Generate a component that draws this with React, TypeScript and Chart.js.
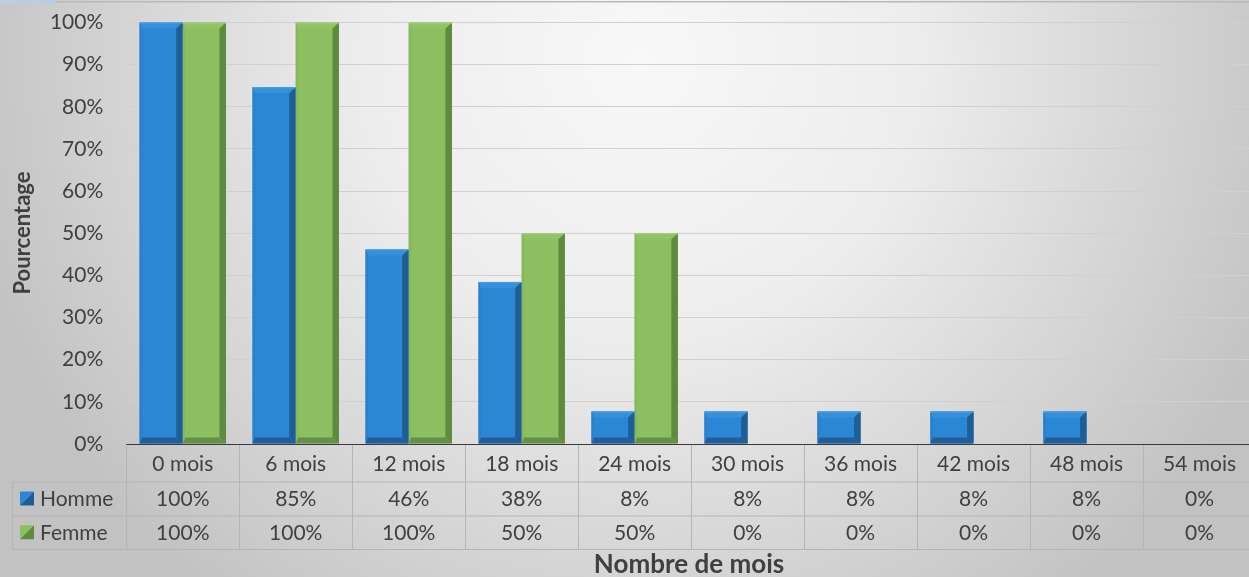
import React, { useEffect, useRef } from 'react';
import { Chart, registerables } from 'chart.js';

Chart.register(...registerables);

const categories = ['0 mois', '6 mois', '12 mois', '18 mois', '24 mois', '30 mois', '36 mois', '42 mois', '48 mois', '54 mois'];
const seriesNames = ['Homme', 'Femme'];
const hommeValues = [100, 84.62, 46.15, 38.46, 7.69, 7.69, 7.69, 7.69, 7.69, 0];
const femmeValues = [100, 100, 100, 50, 50, 0, 0, 0, 0, 0];
const yAxisTitle = 'Pourcentage';
const xAxisTitle = 'Nombre de mois';

const FONT = 'Lato, "Open Sans", sans-serif';
const TEXT = '#404040';

const palettes = [
  { face: '#2b87d5', top: '#3390da', left: '#2a80cc', right: '#1f5e95', bottom: '#205f97', hi: '#4f9fe0' },
  { face: '#8bbf60', top: '#92c467', left: '#86b95b', right: '#5f8b3f', bottom: '#678f45', hi: '#a2cf7c' },
];

function poly(ctx: CanvasRenderingContext2D, pts: number[][], color: string) {
  ctx.beginPath();
  ctx.moveTo(pts[0][0], pts[0][1]);
  for (let i = 1; i < pts.length; i++) ctx.lineTo(pts[i][0], pts[i][1]);
  ctx.closePath();
  ctx.fillStyle = color;
  ctx.fill();
}

function drawBevel(ctx: CanvasRenderingContext2D, L: number, R: number, T: number, B: number, c: any) {
  const h = B - T;
  if (h <= 0.5) return;
  const bt = Math.min(6, h / 4);
  const bb = Math.min(6, h / 4);
  const bl = 2.5;
  const br = 6.5;
  poly(ctx, [[L, T], [R, T], [R - br, T + bt], [L + bl, T + bt]], c.top);
  poly(ctx, [[L, T], [L + bl, T + bt], [L + bl, B - bb], [L, B]], c.left);
  poly(ctx, [[R, T], [R, B], [R - br, B - bb], [R - br, T + bt]], c.right);
  poly(ctx, [[L, B], [R, B], [R - br, B - bb], [L + bl, B - bb]], c.bottom);
  ctx.fillStyle = c.hi;
  ctx.fillRect(L, T, R - L, 1);
}

const decorPlugin = {
  id: 'decor',
  beforeDraw(chart: any) {
    const { ctx, width, height } = chart;
    ctx.save();
    const g = ctx.createRadialGradient(640, 60, 0, 640, 60, 690);
    g.addColorStop(0, '#f8f8f8');
    g.addColorStop(0.4, '#ededed');
    g.addColorStop(0.75, '#d4d4d4');
    g.addColorStop(1, '#c2c2c2');
    ctx.fillStyle = g;
    ctx.fillRect(0, 0, width, height);
    ctx.fillStyle = '#b9b9b9';
    ctx.fillRect(0, 1, width, 1.5);
    ctx.fillStyle = '#b8cde6';
    ctx.fillRect(0, 0, 55, 3);
    ctx.restore();
  },
  afterDatasetsDraw(chart: any) {
    const { ctx } = chart;
    ctx.save();
    chart.data.datasets.forEach((ds: any, di: number) => {
      const meta = chart.getDatasetMeta(di);
      meta.data.forEach((el: any) => {
        const w = el.width;
        drawBevel(ctx, el.x - w / 2, el.x + w / 2, el.y, el.base, palettes[di]);
      });
    });
    ctx.restore();
  },
  afterDraw(chart: any) {
    const { ctx, chartArea } = chart;
    const xs = chart.scales.x;
    const half = (xs.getPixelForValue(1) - xs.getPixelForValue(0)) / 2;
    const y0 = chartArea.bottom;
    const rows = [y0, 481.5, 515.5, 549];
    const legendLeft = 12;
    ctx.save();
    ctx.strokeStyle = '#b5b5b5';
    ctx.lineWidth = 1;
    ctx.beginPath();
    for (let r = 1; r < rows.length; r++) {
      ctx.moveTo(legendLeft, rows[r] + 0.5);
      ctx.lineTo(chart.width, rows[r] + 0.5);
    }
    ctx.moveTo(legendLeft + 0.5, rows[1]);
    ctx.lineTo(legendLeft + 0.5, rows[3]);
    for (let i = 0; i <= categories.length; i++) {
      const x = Math.round(xs.getPixelForValue(0) - half + i * 2 * half) + 0.5;
      ctx.moveTo(x, y0);
      ctx.lineTo(x, rows[3]);
    }
    ctx.stroke();
    ctx.strokeStyle = '#3a3a3a';
    ctx.beginPath();
    ctx.moveTo(chartArea.left, y0 + 0.5);
    ctx.lineTo(chart.width, y0 + 0.5);
    ctx.stroke();

    ctx.fillStyle = TEXT;
    ctx.font = `21px ${FONT}`;
    ctx.textAlign = 'center';
    ctx.textBaseline = 'middle';
    const seriesVals = [hommeValues, femmeValues];
    categories.forEach((c, i) => {
      const cx = xs.getPixelForValue(i);
      ctx.fillText(c, cx, (rows[0] + rows[1]) / 2 + 1);
      seriesVals.forEach((vals, s) => {
        ctx.fillText(`${Math.round(vals[i])}%`, cx, (rows[s + 1] + rows[s + 2]) / 2 + 1);
      });
    });
    seriesNames.forEach((name, s) => {
      const cy = (rows[s + 1] + rows[s + 2]) / 2;
      const kx = 20, ky = cy - 7, k = 14;
      poly(ctx, [[kx, ky], [kx + k, ky], [kx, ky + k]], palettes[s].face);
      poly(ctx, [[kx + k, ky], [kx + k, ky + k], [kx, ky + k]], palettes[s].right);
      ctx.fillStyle = TEXT;
      ctx.textAlign = 'left';
      ctx.fillText(name, 40, cy + 1);
    });
    ctx.font = `bold 26px ${FONT}`;
    ctx.textAlign = 'center';
    ctx.fillText(xAxisTitle, 689, 565);
    ctx.font = `bold 22px ${FONT}`;
    ctx.translate(23, 233);
    ctx.rotate(-Math.PI / 2);
    ctx.fillText(yAxisTitle, 0, 0);
    ctx.restore();
  },
};

export default function App() {
  const ref = useRef<HTMLCanvasElement | null>(null);
  useEffect(() => {
    if (!ref.current) return;
    const chart = new Chart(ref.current, {
      type: 'bar',
      data: {
        labels: categories,
        datasets: [
          { label: seriesNames[0], data: hommeValues, backgroundColor: palettes[0].face, borderWidth: 0 },
          { label: seriesNames[1], data: femmeValues, backgroundColor: palettes[1].face, borderWidth: 0 },
        ],
      },
      options: {
        responsive: false,
        animation: false,
        devicePixelRatio: 1,
        layout: { padding: { top: 22.5, right: 0, bottom: 133, left: 0 } },
        datasets: { bar: { categoryPercentage: 0.765, barPercentage: 1 } },
        plugins: { legend: { display: false }, tooltip: { enabled: false }, title: { display: false } },
        scales: {
          x: { display: false },
          y: {
            min: 0,
            max: 100,
            afterFit: (s: any) => { s.width = 126.3; s.paddingTop = 0; s.paddingBottom = 0; },
            ticks: {
              stepSize: 10,
              padding: 23,
              color: TEXT,
              font: { family: FONT, size: 21 },
              callback: (v: any) => `${v}%`,
            },
            grid: { color: '#d0d0d0', drawTicks: false, lineWidth: 1 },
            border: { display: false },
          },
        },
      },
      plugins: [decorPlugin],
    });
    return () => chart.destroy();
  }, []);
  return (
    <div style={{ position: 'fixed', left: 0, top: 0, width: 1249, height: 577, overflow: 'hidden' }}>
      <canvas ref={ref} width={1256} height={577} style={{ display: 'block' }} />
    </div>
  );
}
